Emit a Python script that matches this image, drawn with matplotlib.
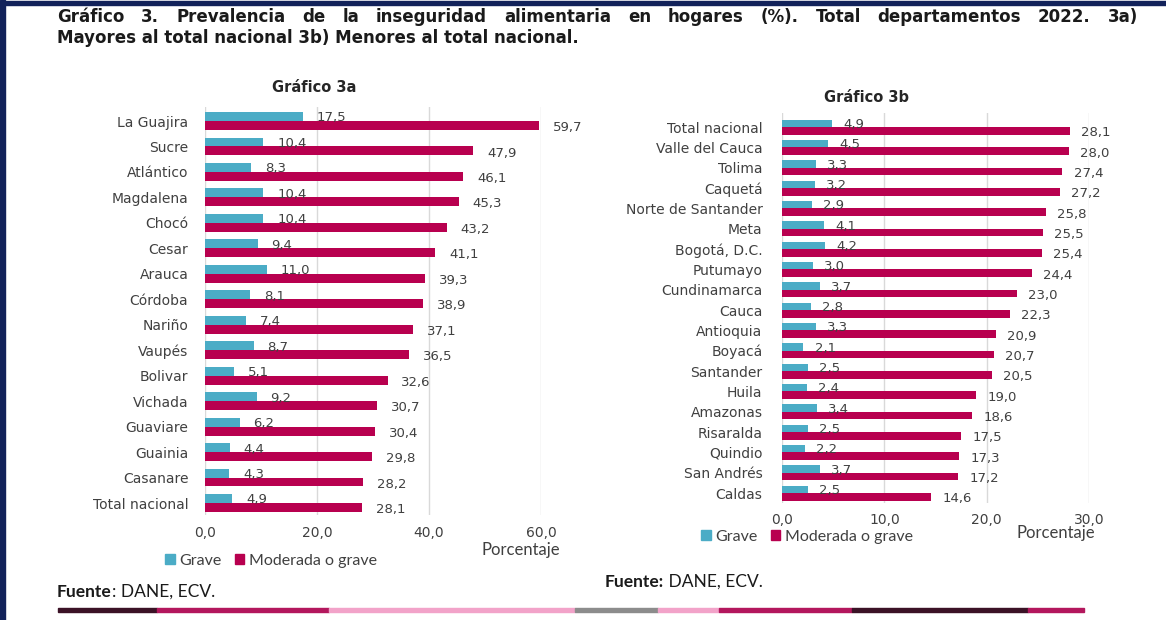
import matplotlib
matplotlib.use("Agg")
import matplotlib.pyplot as plt
from matplotlib.patches import Patch, Rectangle

W, H = 1166, 620

titulo_1 = "Gráfico 3. Prevalencia de la inseguridad alimentaria en hogares (%). Total departamentos 2022. 3a)"
titulo_2 = "Mayores al total nacional 3b) Menores al total nacional."

# Grafico 3a: mayores al total nacional
deptos_a = ["La Guajira", "Sucre", "Atlántico", "Magdalena", "Chocó", "Cesar", "Arauca",
            "Córdoba", "Nariño", "Vaupés", "Bolivar", "Vichada", "Guaviare", "Guainia",
            "Casanare", "Total nacional"]
grave_a = [17.5, 10.4, 8.3, 10.4, 10.4, 9.4, 11.0, 8.1, 7.4, 8.7, 5.1, 9.2, 6.2, 4.4, 4.3, 4.9]
moderada_a = [59.7, 47.9, 46.1, 45.3, 43.2, 41.1, 39.3, 38.9, 37.1, 36.5, 32.6, 30.7, 30.4,
              29.8, 28.2, 28.1]
ticks_a = [0, 20, 40, 60]

# Grafico 3b: menores al total nacional
deptos_b = ["Total nacional", "Valle del Cauca", "Tolima", "Caquetá", "Norte de Santander",
            "Meta", "Bogotá, D.C.", "Putumayo", "Cundinamarca", "Cauca", "Antioquia", "Boyacá",
            "Santander", "Huila", "Amazonas", "Risaralda", "Quindio", "San Andrés", "Caldas"]
grave_b = [4.9, 4.5, 3.3, 3.2, 2.9, 4.1, 4.2, 3.0, 3.7, 2.8, 3.3, 2.1, 2.5, 2.4, 3.4, 2.5,
           2.2, 3.7, 2.5]
moderada_b = [28.1, 28.0, 27.4, 27.2, 25.8, 25.5, 25.4, 24.4, 23.0, 22.3, 20.9, 20.7, 20.5,
              19.0, 18.6, 17.5, 17.3, 17.2, 14.6]
ticks_b = [0, 10, 20, 30]

series = ["Grave", "Moderada o grave"]

CYAN = "#4bacc6"
MAGENTA = "#b8004f"
GRID = "#d9d9d9"
TXT = "#404040"
NAVY = "#12225a"


def fx(x):
    return x / W


def fy(y):
    return 1 - y / H


def coma(v):
    return f"{v:.1f}".replace(".", ",")


fig = plt.figure(figsize=(W / 100, H / 100), dpi=100)
fig.patch.set_facecolor("white")
renderer = fig.canvas.get_renderer()


def panel(box, deptos, grave, moderada, ticks, bar_h, pad_top, pad_bot, off, ypad, lpad):
    x0, y0, x1, y1 = box
    ax = fig.add_axes([fx(x0), fy(y1), (x1 - x0) / W, (y1 - y0) / H])
    pos = list(range(len(deptos)))
    ax.barh([p - bar_h / 2 for p in pos], grave, height=bar_h, color=CYAN, zorder=3)
    ax.barh([p + bar_h / 2 for p in pos], moderada, height=bar_h, color=MAGENTA, zorder=3)
    for p, v in zip(pos, grave):
        ax.annotate(coma(v), (v, p - bar_h / 2), xytext=(off, -1), textcoords="offset points",
                    va="center", ha="left", fontsize=9.5, color=TXT)
    for p, v in zip(pos, moderada):
        ax.annotate(coma(v), (v, p + bar_h / 2), xytext=(off, -1.5), textcoords="offset points",
                    va="center", ha="left", fontsize=9.5, color=TXT)
    ax.set_xlim(ticks[0], ticks[-1])
    ax.set_ylim(len(deptos) - 1 + pad_bot, -pad_top)
    ax.set_xticks(ticks)
    ax.set_xticklabels([coma(t) for t in ticks])
    ax.set_yticks(pos)
    ax.set_yticklabels(deptos)
    ax.tick_params(length=0, colors=TXT, labelsize=10)
    ax.tick_params(axis="y", pad=ypad)
    ax.tick_params(axis="x", pad=lpad)
    ax.grid(axis="x", color=GRID, lw=1, zorder=0)
    ax.set_axisbelow(True)
    for s in ax.spines.values():
        s.set_visible(False)
    return ax


panel((205, 107, 541, 515), deptos_a, grave_a, moderada_a, ticks_a, 0.35, 0.55, 0.47, 10, 12, 8)
panel((782, 113, 1089, 503), deptos_b, grave_b, moderada_b, ticks_b, 0.37, 0.69, 0.49, 8, 14, 7)

# titulo justificado (linea 1) y linea 2
palabras = titulo_1.split()
objs = [fig.text(0, fy(17), w, fontsize=12, fontweight="bold", color="#1a1a1a", va="center")
        for w in palabras]
anchos = [t.get_window_extent(renderer).width for t in objs]
gap = (1138 - 57 - sum(anchos)) / (len(palabras) - 1)
x = 57
for t, a in zip(objs, anchos):
    t.set_x(fx(x))
    x += a + gap
fig.text(fx(57), fy(38), titulo_2, fontsize=12, fontweight="bold", color="#1a1a1a", va="center")

fig.text(fx(314), fy(88), "Gráfico 3a", fontsize=10.5, fontweight="bold", color="#262626",
         ha="center", va="center")
fig.text(fx(866), fy(98), "Gráfico 3b", fontsize=10.5, fontweight="bold", color="#262626",
         ha="center", va="center")

fig.text(fx(521), fy(550), "Porcentaje", fontsize=12, family="Lato", color=TXT,
         ha="center", va="center")
fig.text(fx(1056), fy(533), "Porcentaje", fontsize=12, family="Lato", color=TXT,
         ha="center", va="center")

handles = [Patch(color=CYAN, label=series[0]), Patch(color=MAGENTA, label=series[1])]
for cx, cy in [(271, 561), (807, 537)]:
    fig.legend(handles=handles, loc="center", bbox_to_anchor=(fx(cx), fy(cy)), ncol=2,
               frameon=False, handlelength=0.6, handleheight=0.6, handletextpad=0.3,
               columnspacing=0.8, prop={"family": "Lato", "size": 11.5}, labelcolor=TXT)

# fuente
for fxp, fyp, bold in [(57, 592, "Fuente"), (605, 582, "Fuente:")]:
    tb = fig.text(fx(fxp), fy(fyp), bold, fontsize=12.5, family="Lato", fontweight="bold",
                  color="#1a1a1a", va="center")
    wb = tb.get_window_extent(renderer).width
    resto = ": DANE, ECV." if bold == "Fuente" else " DANE, ECV."
    fig.text(fx(fxp + wb), fy(fyp), resto, fontsize=12.5, family="Lato", color="#1a1a1a",
             va="center")

# franja de colores inferior y marco
franja = [(58, 157, "#3b1226"), (157, 329, "#b3175d"), (329, 575, "#f2a3c9"),
          (575, 658, "#8c8c8c"), (658, 719, "#f2a3c9"), (719, 852, "#b3175d"),
          (852, 1028, "#3b1226"), (1028, 1084, "#b3175d")]
for a, b, c in franja:
    fig.patches.append(Rectangle((fx(a), fy(612)), (b - a) / W, 4 / H, color=c,
                                 transform=fig.transFigure, figure=fig))
fig.patches.append(Rectangle((0, fy(5)), 1, 4 / H, color=NAVY, transform=fig.transFigure,
                             figure=fig))
fig.patches.append(Rectangle((0, 0), 5 / W, 1, color=NAVY, transform=fig.transFigure,
                             figure=fig))

fig.savefig("out.png", dpi=100)
